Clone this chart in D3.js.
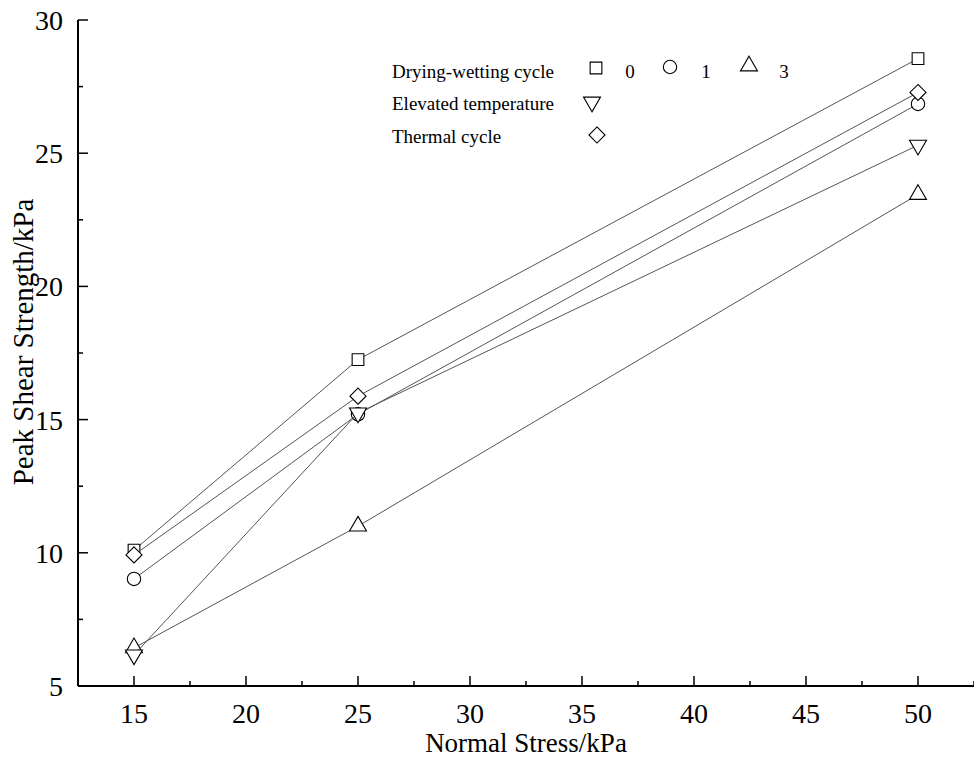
<!DOCTYPE html>
<html>
<head>
<meta charset="utf-8">
<script src="https://cdn.jsdelivr.net/npm/d3@7"></script>
<style>
  body { margin: 0; background: #fff; }
</style>
</head>
<body>
<div id="chart"></div>
<script>
// Normal stress levels (kPa)
const stress = [15, 25, 50];

// Peak shear strength (kPa) per condition
const dw0 = [10.1, 17.25, 28.55];
const dw1 = [9.02, 15.2, 26.85];
const dw3 = [6.43, 11.0, 23.45];
const elevated = [6.17, 15.25, 25.3];
const thermal = [9.92, 15.88, 27.28];

const xTicks = [15, 20, 25, 30, 35, 40, 45, 50];
const yTicks = [5, 10, 15, 20, 25, 30];

const W = 974, H = 763;
const m = { left: 78, right: 0, top: 20, bottom: 77 };
const FONT = "'Liberation Serif', 'Times New Roman', Times, serif";

const svg = d3.select('#chart').append('svg')
  .attr('width', W).attr('height', H)
  .style('font-family', FONT);

const x = d3.scaleLinear().domain([12.5, 52.5]).range([m.left, W - m.right]);
const y = d3.scaleLinear().domain([5, 30]).range([H - m.bottom, m.top]);

const series = [
  { values: dw0, symbol: d3.symbolSquare, size: 137, rot: 0 },
  { values: dw1, symbol: d3.symbolCircle, size: 140, rot: 0 },
  { values: dw3, symbol: d3.symbolTriangle, size: 125, rot: 0 },
  { values: elevated, symbol: d3.symbolTriangle, size: 125, rot: 180 },
  { values: thermal, symbol: d3.symbolDiamond2, size: 165, rot: 0 }
];

const line = d3.line().x(d => x(d[0])).y(d => y(d[1]));

series.forEach(s => {
  const pts = stress.map((v, i) => [v, s.values[i]]);
  svg.append('path')
    .datum(pts)
    .attr('d', line)
    .attr('fill', 'none')
    .attr('stroke', '#555')
    .attr('stroke-width', 1);

  pts.forEach(p => {
    svg.append('path')
      .attr('d', d3.symbol(s.symbol, s.size)())
      .attr('transform', `translate(${x(p[0])},${y(p[1])}) rotate(${s.rot})`)
      .attr('fill', '#fff')
      .attr('stroke', '#000')
      .attr('stroke-width', 1.1);
  });
});

// Axes
const x0 = x.range()[0], yb = y.range()[0];
svg.append('line').attr('x1', x0).attr('x2', W).attr('y1', yb).attr('y2', yb)
  .attr('stroke', '#000').attr('stroke-width', 2);
svg.append('line').attr('x1', x0).attr('x2', x0).attr('y1', m.top).attr('y2', yb)
  .attr('stroke', '#000').attr('stroke-width', 2);

xTicks.forEach(t => {
  svg.append('line').attr('x1', x(t)).attr('x2', x(t)).attr('y1', yb).attr('y2', yb - 10)
    .attr('stroke', '#000').attr('stroke-width', 1.5);
  svg.append('line').attr('x1', x(t + 2.5)).attr('x2', x(t + 2.5)).attr('y1', yb).attr('y2', yb - 5)
    .attr('stroke', '#000').attr('stroke-width', 1.5);
  svg.append('text').attr('x', x(t)).attr('y', yb + 37)
    .attr('text-anchor', 'middle').attr('font-size', 28).text(t);
});
svg.append('line').attr('x1', x(12.5)).attr('x2', x(12.5)).attr('y1', yb).attr('y2', yb - 5)
  .attr('stroke', '#000').attr('stroke-width', 1.5);

yTicks.forEach(t => {
  svg.append('line').attr('x1', x0).attr('x2', x0 + 10).attr('y1', y(t)).attr('y2', y(t))
    .attr('stroke', '#000').attr('stroke-width', 1.5);
  if (t < 30) {
    svg.append('line').attr('x1', x0).attr('x2', x0 + 5).attr('y1', y(t + 2.5)).attr('y2', y(t + 2.5))
      .attr('stroke', '#000').attr('stroke-width', 1.5);
  }
  svg.append('text').attr('x', 63).attr('y', y(t) + 10)
    .attr('text-anchor', 'end').attr('font-size', 28).text(t);
});

svg.append('text').attr('x', 526).attr('y', 752)
  .attr('text-anchor', 'middle').attr('font-size', 27).text('Normal Stress/kPa');
svg.append('text')
  .attr('transform', `translate(33,342) rotate(-90)`)
  .attr('text-anchor', 'middle').attr('font-size', 29).text('Peak Shear Strength/kPa');

// Legend
const lg = svg.append('g');
const legRows = [
  { label: 'Drying-wetting cycle', y: 78 },
  { label: 'Elevated temperature', y: 110 },
  { label: 'Thermal cycle', y: 143 }
];
legRows.forEach(r => {
  lg.append('text').attr('x', 392).attr('y', r.y).attr('font-size', 19).text(r.label);
});
const legItems = [
  { s: series[0], x: 596, y: 68, text: '0', tx: 630 },
  { s: series[1], x: 670, y: 67, text: '1', tx: 706 },
  { s: series[2], x: 749, y: 66, text: '3', tx: 784 },
  { s: series[3], x: 592, y: 102, text: null },
  { s: series[4], x: 597, y: 135, text: null }
];
legItems.forEach(it => {
  lg.append('path')
    .attr('d', d3.symbol(it.s.symbol, it.s.size)())
    .attr('transform', `translate(${it.x},${it.y}) rotate(${it.s.rot})`)
    .attr('fill', '#fff').attr('stroke', '#000').attr('stroke-width', 1.1);
  if (it.text) {
    lg.append('text').attr('x', it.tx).attr('y', 78).attr('text-anchor', 'middle')
      .attr('font-size', 19).text(it.text);
  }
});
</script>
</body>
</html>
